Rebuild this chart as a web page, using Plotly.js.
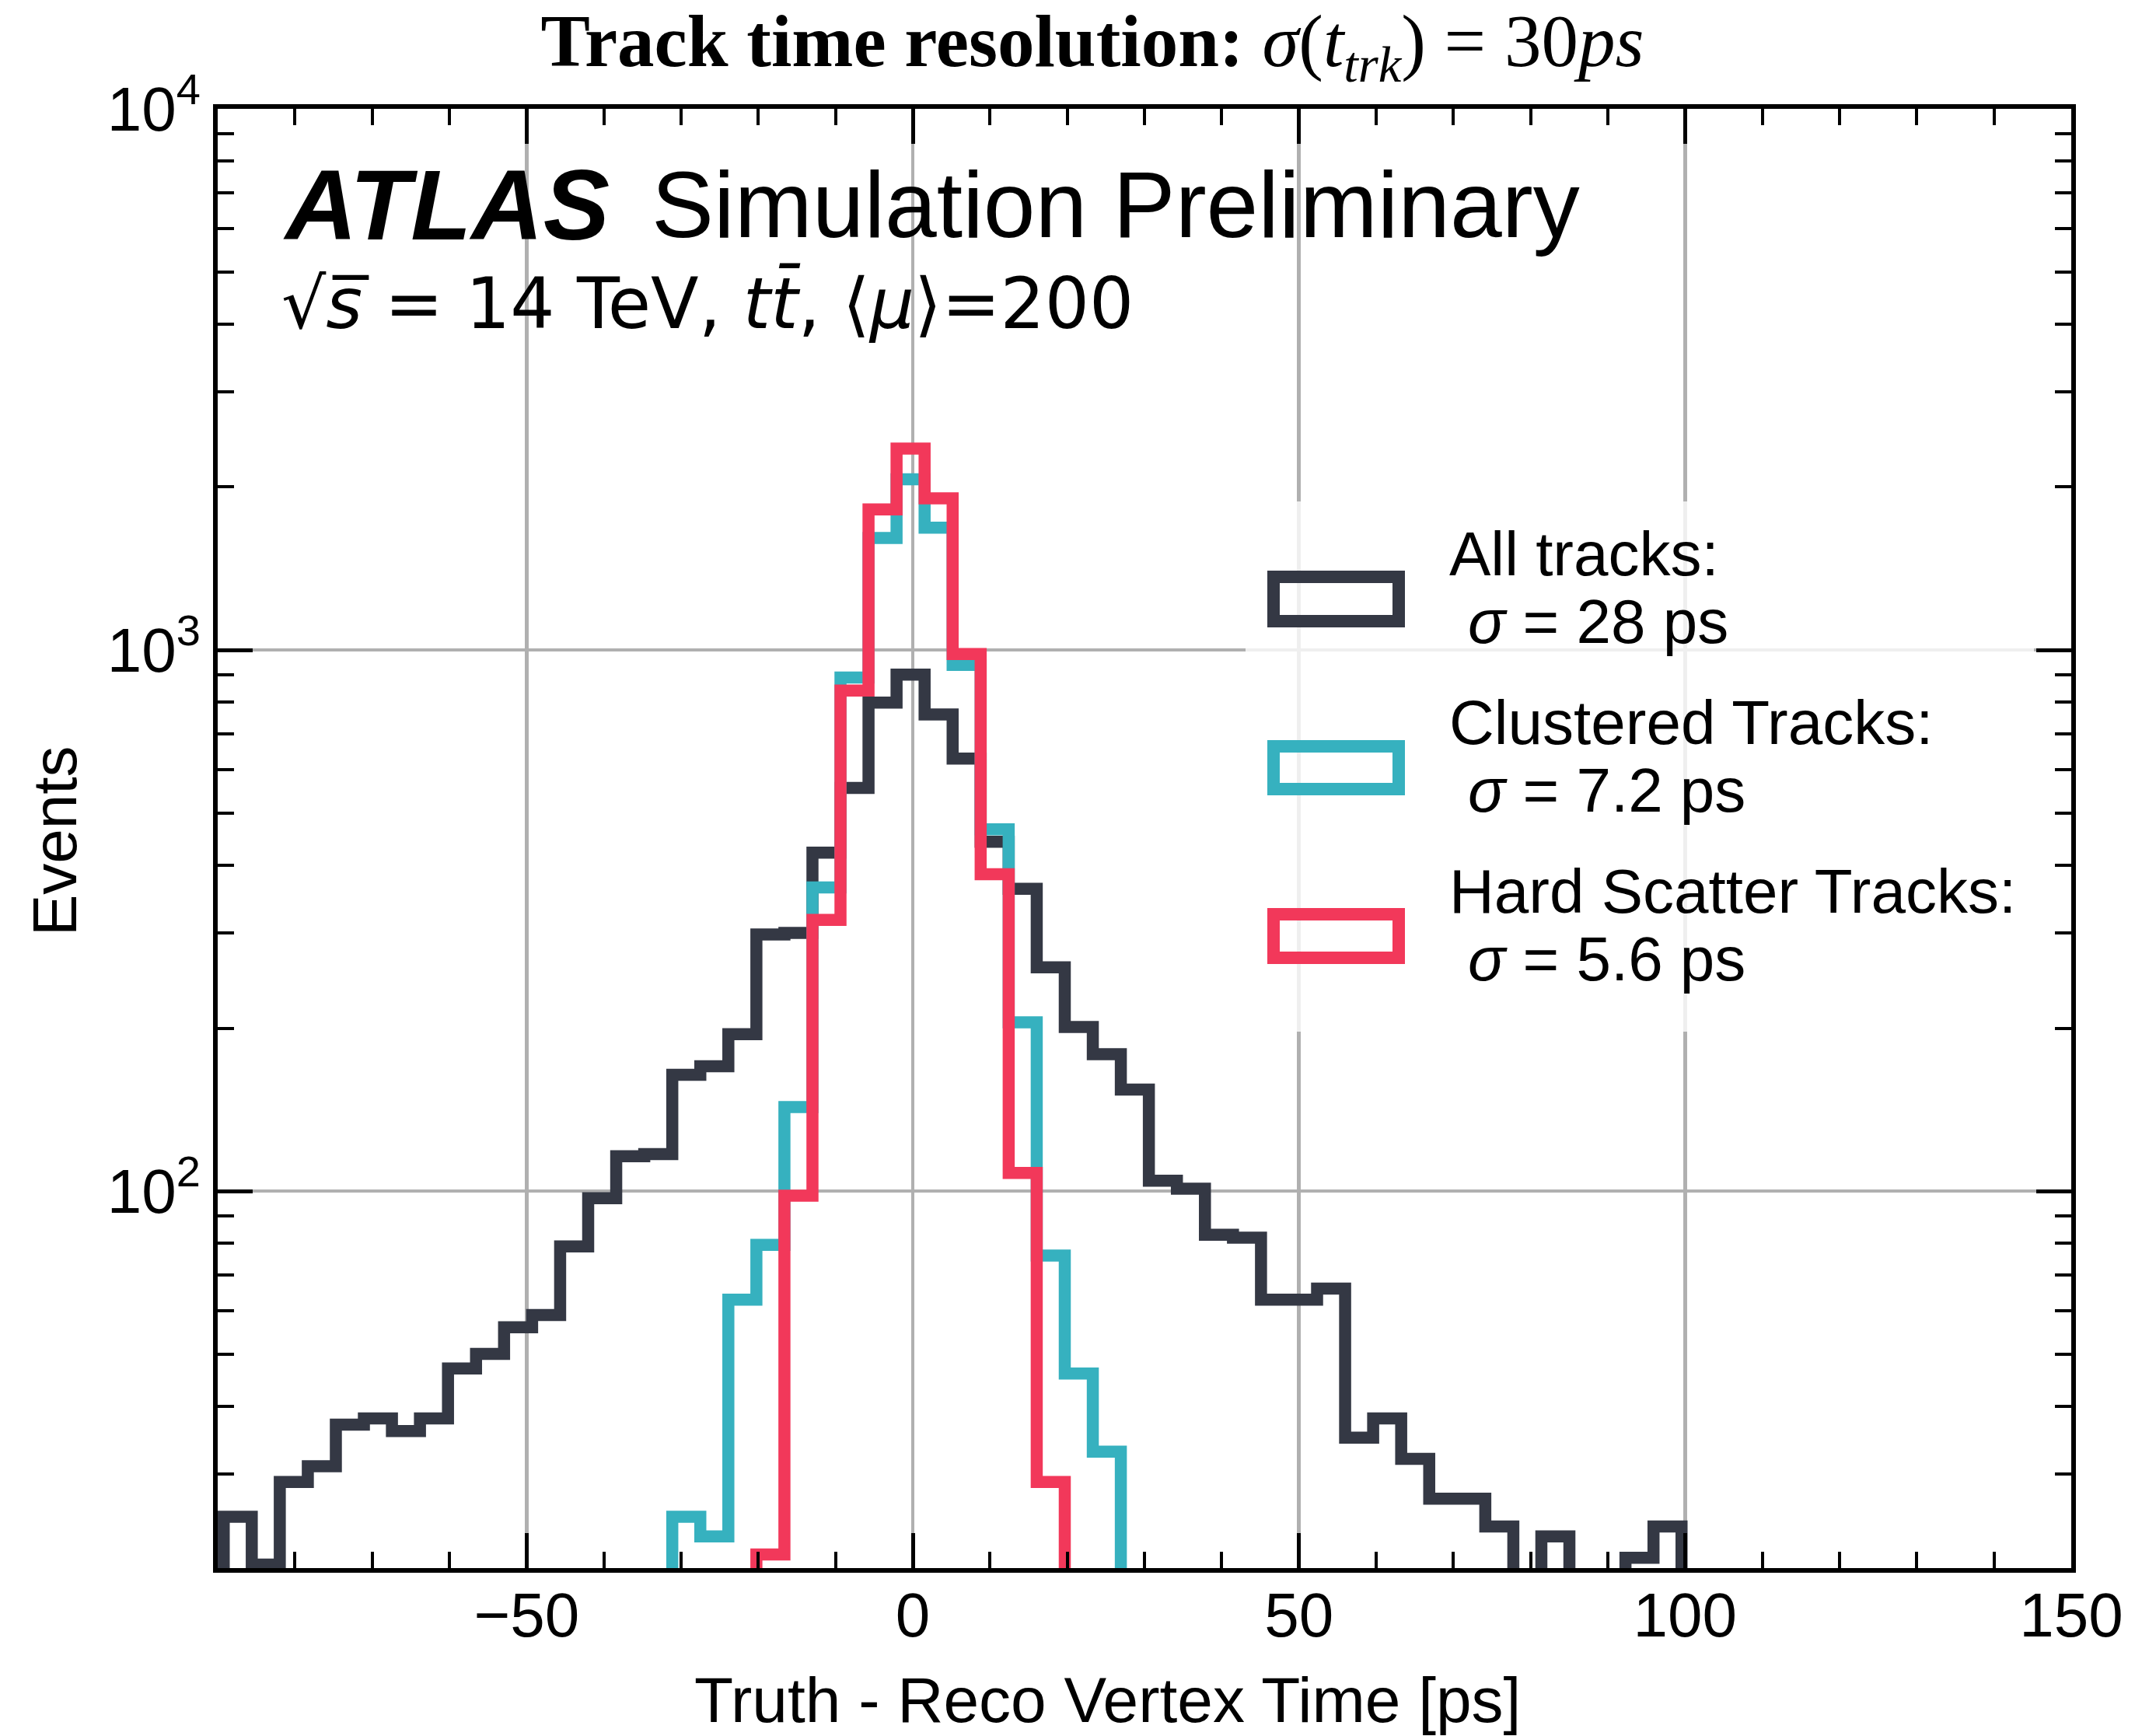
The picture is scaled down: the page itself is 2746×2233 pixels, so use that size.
<!DOCTYPE html>
<html><head><meta charset="utf-8">
<script src="https://cdn.plot.ly/plotly-3.0.1.min.js"></script>
<style>html,body{margin:0;padding:0;background:#fff}</style>
</head><body>
<div id="chart" style="width:2746px;height:2233px"></div>
<script>
// ---- data ----
// common bin edges [ps]
const binEdges = [-92.85, -89.22, -85.59, -81.96, -78.33, -74.70, -71.07, -67.44, -63.81, -60.18,
  -56.55, -52.92, -49.29, -45.66, -42.03, -38.40, -34.77, -31.14, -27.51, -23.88,
  -20.25, -16.62, -12.99, -9.36, -5.73, -2.10, 1.53, 5.16, 8.79, 12.42,
  16.05, 19.68, 23.31, 26.94, 30.57, 34.20, 37.83, 41.46, 45.09, 48.72,
  52.35, 55.98, 59.61, 63.24, 66.87, 70.50, 74.13, 77.76, 81.39, 85.02,
  88.65, 92.28, 95.91, 99.54];
// counts per bin (bins between consecutive edges)
const allTracks = [15, 25, 20.4, 29, 31, 37, 38, 36, 38, 47,
  50, 56, 59, 79, 97, 116, 117, 164, 170, 195,
  298, 300, 422, 556, 799, 900, 760, 630, 442, 362,
  259, 201, 179, 154, 104.5, 101, 83, 82, 63, 63,
  66, 35, 38, 32, 27, 27, 24, 18, 23, 17,
  18, 21, 24];
const clusteredTracks = [0, 0, 0, 0, 0, 0, 0, 0, 0, 0,
  0, 0, 0, 0, 0, 2, 12, 25, 23, 63,
  79.5, 143, 364, 889, 1610, 2067, 1682, 938, 466, 205,
  76, 46, 33, 14, 3, 0, 0, 0, 0, 0,
  0, 0, 0, 0, 0, 0, 0, 0, 0, 0,
  0, 0, 0];
const hardScatterTracks = [0, 0, 0, 0, 0, 0, 0, 0, 0, 0,
  0, 0, 0, 0, 0, 0, 0, 0, 4, 12,
  21.3, 98, 317, 841, 1818, 2356, 1906, 983, 385, 108,
  29, 9, 1, 0, 0, 0, 0, 0, 0, 0,
  0, 0, 0, 0, 0, 0, 0, 0, 0, 0,
  0, 0, 0];
const seriesNames = ['All tracks:', 'Clustered Tracks:', 'Hard Scatter Tracks:'];
const seriesSigma = ['28', '7.2', '5.6'];
const seriesColors = ['#343844', '#36b1bf', '#f2385a'];
const xTickVals = [-50, 0, 50, 100, 150];
const xMinorVals = [-80, -70, -60, -40, -30, -20, -10, 10, 20, 30, 40, 60, 70, 80, 90, 110, 120, 130, 140];
const yTickVals = [100, 1000, 10000];
const yTickText = ['10<sup>2</sup>', '10<sup>3</sup>', '10<sup>4</sup>'];
const yMinorVals = [30, 40, 50, 60, 70, 80, 90, 200, 300, 400, 500, 600, 700, 800, 900,
  2000, 3000, 4000, 5000, 6000, 7000, 8000, 9000];

// ---- layout helpers ----
const L = 280, R = 2664, T = 140, B = 2017;
const px = x => (x - L) / (R - L);
const py = y => (B - y) / (B - T);

function stepTrace(counts, color) {
  const FLOOR = 1; // empty bins drawn below the visible log range
  const xs = [binEdges[0]], ys = [FLOOR];
  counts.forEach((c, i) => { xs.push(binEdges[i]); ys.push(c > 0 ? c : FLOOR); });
  xs.push(binEdges[counts.length]); ys.push(FLOOR);
  return {type: 'scatter', mode: 'lines', x: xs, y: ys,
    line: {shape: 'hv', color: color, width: 15.5},
    showlegend: false, hoverinfo: 'skip'};
}

const traces = [
  stepTrace(allTracks, seriesColors[0]),
  stepTrace(clusteredTracks, seriesColors[1]),
  stepTrace(hardScatterTracks, seriesColors[2])
];

const SANS = 'Liberation Sans, Arial, sans-serif';
const shapes = [{type: 'rect', xref: 'paper', yref: 'paper', layer: 'above',
  x0: px(1602), x1: px(2616), y0: py(1327), y1: py(645),
  fillcolor: 'rgba(255,255,255,0.8)', line: {width: 0}}];
const annotations = [];
const symY = [[742, 799], [960, 1015], [1176, 1232]];
const line1Y = [712, 929, 1146];
const line2Y = [800, 1016, 1233];
for (let i = 0; i < 3; i++) {
  shapes.push({type: 'rect', xref: 'paper', yref: 'paper', layer: 'above',
    x0: px(1638), x1: px(1799), y0: py(symY[i][1]), y1: py(symY[i][0]),
    fillcolor: 'rgba(0,0,0,0)', line: {color: seriesColors[i], width: 16}});
  annotations.push({xref: 'paper', yref: 'paper', x: px(1862), y: py(line1Y[i]),
    xanchor: 'left', yanchor: 'middle', showarrow: false, text: seriesNames[i],
    font: {family: SANS, size: 80, color: '#000'}});
  annotations.push({xref: 'paper', yref: 'paper', x: px(1886), y: py(line2Y[i]),
    xanchor: 'left', yanchor: 'middle', showarrow: false,
    text: '<i>σ</i> = ' + seriesSigma[i] + ' ps',
    font: {family: SANS, size: 80, color: '#000'}});
}
// ATLAS label
annotations.push({xref: 'paper', yref: 'paper', x: px(362), y: py(263), xanchor: 'left', yanchor: 'middle',
  showarrow: false, text: '<b><i>ATLAS</i></b>', font: {family: SANS, size: 128, color: '#000'}});
annotations.push({xref: 'paper', yref: 'paper', x: px(836), y: py(263), xanchor: 'left', yanchor: 'middle',
  showarrow: false, text: 'Simulation Preliminary', font: {family: SANS, size: 120, color: '#000'}});
annotations.push({xref: 'paper', yref: 'paper', x: px(360), y: py(390), xanchor: 'left', yanchor: 'middle',
  showarrow: false,
  text: '√<i>s̅</i> = 14 TeV, <i>t</i><i>t̄</i>, ⟨<i>μ</i>⟩=200',
  font: {family: 'DejaVu Sans', size: 90, color: '#000'}});
// axis titles
annotations.push({xref: 'paper', yref: 'paper', x: px(1424), y: py(2186), xanchor: 'center', yanchor: 'middle',
  showarrow: false, text: 'Truth - Reco Vertex Time [ps]', font: {family: SANS, size: 82, color: '#000'}});
annotations.push({xref: 'paper', yref: 'paper', x: px(70), y: py(1082), xanchor: 'center', yanchor: 'middle',
  showarrow: false, textangle: -90, text: 'Events', font: {family: SANS, size: 80, color: '#000'}});

const layout = {
  width: 2746, height: 2233,
  margin: {l: L, r: 2746 - R, t: T, b: 2233 - B, pad: 0},
  paper_bgcolor: '#fff', plot_bgcolor: '#fff',
  font: {family: SANS, color: '#000', size: 80},
  title: {text: '<b>Track time resolution:</b> <i>σ</i>(<i>t</i><sub><i>trk</i></sub>) = 30<i>ps</i>',
    font: {family: 'Liberation Serif, Times New Roman, serif', size: 95, color: '#000'},
    xref: 'paper', x: px(1405), xanchor: 'center', yref: 'container', y: 1 - 52 / 2233, yanchor: 'middle'},
  xaxis: {range: [-90, 150], tickmode: 'array', tickvals: xTickVals,
    ticks: 'inside', ticklen: 45, tickwidth: 5, tickcolor: '#000',
    minor: {tickmode: 'array', tickvals: xMinorVals, ticks: 'inside', ticklen: 21, tickwidth: 4, tickcolor: '#000', showgrid: false},
    showline: true, linewidth: 6, linecolor: '#000', mirror: 'ticks',
    showgrid: true, gridcolor: '#b0b0b0', gridwidth: 4.5, zeroline: false,
    ticklabelstandoff: -14,
    tickfont: {family: SANS, size: 80, color: '#000'}},
  yaxis: {type: 'log', range: [Math.log10(20.1), 4], tickmode: 'array', tickvals: yTickVals, ticktext: yTickText,
    ticks: 'inside', ticklen: 45, tickwidth: 5, tickcolor: '#000',
    minor: {tickmode: 'array', tickvals: yMinorVals, ticks: 'inside', ticklen: 21, tickwidth: 4, tickcolor: '#000', showgrid: false},
    showline: true, linewidth: 6, linecolor: '#000', mirror: 'ticks',
    showgrid: true, gridcolor: '#b0b0b0', gridwidth: 4.5, zeroline: false,
    tickfont: {family: SANS, size: 80, color: '#000'}},
  shapes: shapes,
  annotations: annotations,
  showlegend: false
};

Plotly.newPlot('chart', traces, layout, {staticPlot: true});
</script>
</body></html>
